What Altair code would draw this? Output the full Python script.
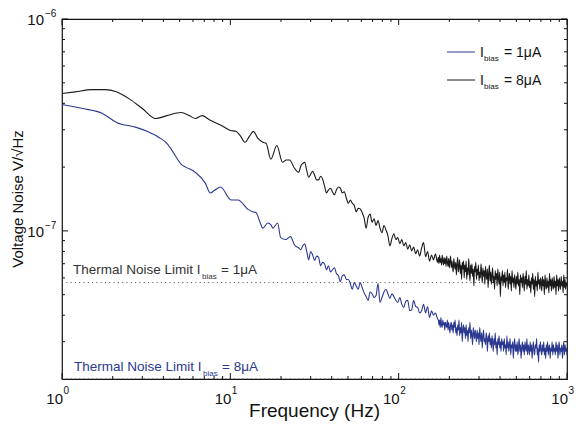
import altair as alt
import pandas as pd
import numpy as np

# ---------------- data (voltage noise in units of 1e-8 V/sqrt(Hz)) ----------------
# black curve (legend: I_bias = 8 uA) - smooth low-frequency part
F_BLACK_LOW = [1.0, 1.2, 1.5, 1.8, 2.1, 2.5, 3.0, 3.6, 4.2, 5.1, 5.7, 6.2, 6.8, 7.5, 8.8, 10.0,
               10.8, 11.5, 12.2, 13.0, 13.7, 14.6, 15.6, 16.3, 17.4, 18.9, 20.4, 21.5, 22.5, 24.0]
V_BLACK_LOW = [44.5, 45.3, 46.4, 46.4, 45.4, 42.1, 37.8, 33.9, 35.0, 36.2, 35.0, 33.9, 35.0, 33.5, 31.5, 29.8,
               29.5, 28.0, 26.2, 28.0, 29.5, 27.3, 26.2, 25.9, 21.8, 25.3, 21.1, 21.6, 21.6, 19.8]
# black curve, 25.5 Hz .. 170 Hz (log-spaced spectrum bins)
V_BLACK_MID = [18.9, 20.2, 20.8, 21.1, 19.3, 17.9, 18.5, 19.1, 18.3, 17.4,
               17.4, 18.1, 17.6, 16.3, 15.1, 15.6, 15.9, 15.3, 14.8, 15.6,
               16.1, 15.9, 15.1, 15.3, 14.3, 13.5, 14.0, 13.5, 13.2, 12.3,
               12.8, 12.7, 12.2, 11.5, 10.3, 11.6, 12.0, 11.0, 11.4, 10.6,
               11.2, 10.3, 9.8, 10.6, 10.1, 9.5, 8.5, 9.2, 9.7, 9.1,
               9.3, 8.7, 9.1, 8.5, 8.8, 8.2, 8.6, 8.05, 8.4, 7.8,
               8.15, 7.6, 8.3, 8.8, 7.55, 8.0, 7.2, 7.7, 7.3, 7.8, 7.1]
# black curve, 172 Hz .. 1000 Hz
V_BLACK_HIGH = [7.5, 7.0, 7.7, 7.1, 7.4, 6.9, 7.7, 7.2, 6.9, 7.5, 7.0, 7.4, 6.8, 7.6, 7.1, 6.8, 7.4, 6.7, 7.2, 7.6,
                6.7, 7.2, 6.8, 6.4, 7.4, 6.9, 6.6, 7.1, 6.2, 7.0, 7.5, 6.4, 6.8, 7.3, 6.3, 6.9, 5.9, 7.1, 6.6, 7.2,
                6.0, 6.9, 6.4, 7.2, 5.9, 6.7, 6.2, 7.4, 6.5, 5.8, 6.9, 6.3, 7.0, 6.1, 6.6, 5.5, 6.8, 6.4, 7.1, 5.9,
                6.6, 6.2, 6.9, 5.8, 6.4, 6.0, 7.0, 6.3, 5.7, 6.7, 6.1, 6.5, 5.6, 6.8, 6.2, 5.9, 6.6, 5.4, 6.3, 6.9,
                5.8, 6.4, 5.6, 6.2, 6.7, 5.7, 6.1, 5.3, 6.5, 5.9, 6.3, 5.5, 6.6, 6.0, 5.6, 6.4, 4.9, 6.1, 5.8, 6.5,
                5.5, 6.2, 5.7, 6.4, 5.4, 6.0, 5.8, 6.6, 5.3, 5.9, 6.3, 5.6, 6.1, 5.2, 6.5, 5.7, 6.0, 5.4, 6.2, 5.8,
                5.3, 6.1, 5.6, 6.4, 5.5, 5.9, 5.0, 6.2, 5.7, 6.0, 5.4, 6.3, 5.8, 5.2, 6.1, 5.6, 6.5, 5.3, 5.9, 5.5,
                6.2, 5.4, 5.8, 5.1, 6.0, 5.6, 6.3, 5.3, 5.9, 4.9, 6.1, 5.5, 5.8, 5.2, 6.4, 5.6, 5.9, 5.3, 6.0, 5.7,
                5.2, 6.1, 5.5, 5.9, 5.0, 6.2, 5.6, 5.3, 6.0, 5.4, 5.8, 5.1, 6.3, 5.5, 5.9, 5.2, 6.0, 5.6, 5.3, 6.1,
                5.4, 5.8, 5.0, 6.2, 5.5, 5.9, 5.2, 6.0, 5.6, 5.3, 6.1, 5.5, 5.8, 5.1, 6.2, 5.4, 5.9, 5.3, 5.7, 5.5]

# blue curve (legend: I_bias = 1 uA)
F_BLUE_LOW = [1.0, 1.33, 1.74, 2.11, 2.76, 3.2, 3.77, 4.2, 4.5, 5.15, 5.43, 6.2, 7.1, 7.6, 8.1, 8.75,
              10.1, 11.1, 12.8, 13.6, 14.2, 15.0, 15.6, 16.7, 17.4, 17.9, 19.1, 19.9, 21.3, 22.8, 24.0]
V_BLUE_LOW = [39.5, 37.8, 35.8, 32.5, 30.8, 29.5, 27.6, 25.9, 24.0, 20.5, 20.0, 18.9, 16.8, 15.1, 15.6, 16.1,
              14.0, 14.0, 12.6, 12.3, 12.2, 11.0, 10.3, 10.9, 10.7, 10.3, 10.9, 9.3, 9.1, 9.4, 8.6]
V_BLUE_MID = [8.3, 8.15, 8.5, 8.7, 8.0, 7.3, 8.0, 7.7, 7.25, 7.6,
              7.5, 6.85, 7.1, 7.0, 6.55, 6.85, 6.4, 6.55, 6.7, 6.3,
              6.15, 5.75, 6.15, 6.2, 5.9, 5.9, 5.65, 5.3, 5.7, 5.5,
              5.3, 5.7, 5.4, 5.1, 4.9, 4.7, 5.15, 5.05, 4.85, 4.95,
              5.65, 4.6, 4.85, 5.15, 5.3, 5.05, 4.8, 5.05, 4.9, 4.7,
              4.6, 4.85, 4.5, 4.35, 4.65, 4.7, 4.2, 4.25, 4.7, 4.4,
              4.35, 4.1, 4.2, 4.5, 4.1, 4.4, 3.9, 4.2, 4.0, 4.1, 3.85]
V_BLUE_HIGH = [3.8, 3.6, 3.8, 3.5, 3.9, 3.6, 3.5, 3.8, 3.6, 3.7, 3.4, 3.7, 3.6, 3.5, 3.8, 3.4, 3.7, 3.5, 3.3, 3.6,
               3.7, 3.4, 3.6, 3.3, 3.7, 3.5, 3.8, 3.3, 3.5, 3.2, 3.6, 3.4, 3.8, 3.2, 3.5, 3.3, 3.7, 3.0, 3.4, 3.6,
               3.3, 3.5, 3.1, 3.6, 3.2, 3.4, 3.0, 3.5, 3.3, 3.7, 3.1, 3.4, 3.2, 2.9, 3.5, 3.3, 3.1, 3.4, 3.2, 3.0,
               3.4, 3.1, 3.3, 2.9, 3.5, 3.2, 3.0, 3.3, 2.8, 3.2, 3.4, 3.0, 3.1, 2.9, 3.3, 3.1, 2.7, 3.2, 3.0, 3.3,
               2.9, 3.1, 2.8, 3.2, 3.0, 2.7, 3.1, 2.9, 3.3, 2.8, 3.0, 2.6, 3.1, 2.9, 3.2, 2.8, 3.0, 2.7, 3.1, 2.9,
               3.0, 2.7, 3.1, 2.8, 2.9, 2.6, 3.2, 2.8, 3.0, 2.7, 2.9, 3.1, 2.6, 2.9, 2.8, 3.0, 2.5, 2.9, 3.1, 2.7,
               2.9, 2.7, 3.0, 2.6, 2.8, 3.1, 2.7, 2.9, 2.5, 2.8, 3.0, 2.7, 2.9, 2.6, 3.0, 2.8, 2.7, 3.1, 2.6, 2.9,
               2.8, 2.6, 3.0, 2.7, 2.9, 2.5, 2.8, 3.0, 2.7, 2.6, 2.9, 2.8, 3.1, 2.6, 2.8, 2.4, 2.9, 2.7, 3.0, 2.7,
               2.6, 2.9, 2.7, 3.0, 2.6, 2.8, 2.5, 2.9, 2.7, 3.0, 2.6, 2.8, 2.9, 2.5, 2.8, 2.7, 3.0, 2.6, 2.9, 2.7,
               2.8, 2.6, 3.0, 2.7, 2.9, 2.5, 2.8, 3.0, 2.6, 2.8, 2.7, 2.9, 2.5, 2.8, 3.0, 2.6, 2.9, 2.7, 2.8, 2.6]

THERMAL_1UA = 5.7   # x 1e-8
THERMAL_8UA = 2.0   # x 1e-8
UNIT = 1e-8

SERIES = ["Ibias = 8\u03bcA", "Ibias = 1\u03bcA"]
COLORS = ["#1a1a1a", "#2b3990"]

X_DECADES = [1, 10, 100, 1000]
X_EXP = ["0", "1", "2", "3"]
X_MINOR = [2, 3, 4, 5, 6, 7, 8, 9, 20, 30, 40, 50, 60, 70, 80, 90, 200, 300, 400, 500, 600, 700, 800, 900]
Y_DECADES = [1e-7, 1e-6]
Y_EXP = ["\u22127", "\u22126"]
Y_MINOR = [3e-8, 4e-8, 5e-8, 6e-8, 7e-8, 8e-8, 9e-8, 2e-7, 3e-7, 4e-7, 5e-7, 6e-7, 7e-7, 8e-7, 9e-7]

# ---------------- build table ----------------
def seg(name, f_low, v_low, v_mid, v_high):
    f = list(f_low) + list(np.geomspace(25.5, 170, len(v_mid))) + list(np.geomspace(172, 1000, len(v_high)))
    v = [x * UNIT for x in list(v_low) + list(v_mid) + list(v_high)]
    return pd.DataFrame({"f": f, "v": v, "series": name})

df = pd.concat([seg(SERIES[0], F_BLACK_LOW, V_BLACK_LOW, V_BLACK_MID, V_BLACK_HIGH),
                seg(SERIES[1], F_BLUE_LOW, V_BLUE_LOW, V_BLUE_MID, V_BLUE_HIGH)], ignore_index=True)

W, H = 505, 360
FONT = "Liberation Sans"
xs = alt.Scale(type="log", domain=[1, 1000], nice=False)
ys = alt.Scale(type="log", domain=[2e-8, 1e-6], nice=False)
X = alt.X("f:Q", scale=xs, axis=None)
Y = alt.Y("v:Q", scale=ys, axis=None)
one = pd.DataFrame({"a": [0]})

layers = []

# thermal limits (dotted)
th = pd.DataFrame({"f": [1, 1000, 1, 1000],
                   "v": [THERMAL_1UA * UNIT] * 2 + [THERMAL_8UA * UNIT] * 2,
                   "k": ["a", "a", "b", "b"]})
layers.append(alt.Chart(th).mark_line(strokeDash=[1, 3.3], strokeWidth=1, color="#444").encode(
    x=X, y=Y, detail="k:N"))

# ticks
def xt(vals, L):
    d = pd.DataFrame({"f": vals})
    return [alt.Chart(d).mark_rule(color="#111", strokeWidth=1).encode(x=X, y=alt.value(H), y2=alt.value(H - L)),
            alt.Chart(d).mark_rule(color="#111", strokeWidth=1).encode(x=X, y=alt.value(0), y2=alt.value(L))]

def yt(vals, L):
    d = pd.DataFrame({"v": vals})
    return [alt.Chart(d).mark_rule(color="#111", strokeWidth=1).encode(y=Y, x=alt.value(0), x2=alt.value(L)),
            alt.Chart(d).mark_rule(color="#111", strokeWidth=1).encode(y=Y, x=alt.value(W), x2=alt.value(W - L))]

layers += xt(X_MINOR, 3) + xt(X_DECADES, 6) + yt(Y_MINOR, 3) + yt(Y_DECADES, 6)

# data lines
layers.append(alt.Chart(df).mark_line(strokeWidth=1.1, interpolate="monotone").encode(
    x=X, y=Y,
    color=alt.Color("series:N", scale=alt.Scale(domain=SERIES, range=COLORS), legend=None)))

# tick labels
xl = pd.DataFrame({"f": X_DECADES, "e": X_EXP})
layers.append(alt.Chart(xl).mark_text(align="right", baseline="alphabetic", dx=1, fontSize=15, font=FONT,
                                      color="#111").encode(x=X, y=alt.value(385), text=alt.value("10")))
layers.append(alt.Chart(xl).mark_text(align="left", baseline="alphabetic", dx=1.5, fontSize=10, font=FONT,
                                      color="#111").encode(x=X, y=alt.value(375), text="e:N"))
yl = pd.DataFrame({"v": Y_DECADES, "e": Y_EXP})
layers.append(alt.Chart(yl).mark_text(align="right", baseline="alphabetic", dy=6, fontSize=15, font=FONT,
                                      color="#111").encode(x=alt.value(-18), y=Y, text=alt.value("10")))
layers.append(alt.Chart(yl).mark_text(align="left", baseline="alphabetic", dy=-2, fontSize=10, font=FONT,
                                      color="#111").encode(x=alt.value(-17), y=Y, text="e:N"))

def txt(s, x, y, size, color="#222", align="left", angle=0):
    return alt.Chart(one).mark_text(align=align, baseline="alphabetic", fontSize=size, font=FONT,
                                    color=color, angle=angle).encode(
        x=alt.value(x), y=alt.value(y), text=alt.value(s))

# axis titles
layers.append(txt("Frequency (Hz)", W / 2, 398, 19, "#111", "center"))
layers.append(alt.Chart(one).mark_text(align="center", baseline="middle", fontSize=15, font=FONT,
                                       color="#111", angle=270).encode(
    x=alt.value(-44), y=alt.value(H / 2), text=alt.value("Voltage Noise V/\u221aHz")))

# legend
for (yline, ybase, label, col) in [(33, 38, "= 1\u03bcA", COLORS[1]), (61, 66, "= 8\u03bcA", COLORS[0])]:
    layers.append(alt.Chart(one).mark_rule(color=col, strokeWidth=1).encode(
        x=alt.value(385), x2=alt.value(413), y=alt.value(yline)))
    layers.append(txt("I", 418, ybase, 14, "#111"))
    layers.append(txt("bias", 422, ybase + 4, 8, "#111"))
    layers.append(txt(label, 442, ybase, 14, "#111"))

# thermal noise annotations
layers.append(txt("Thermal Noise Limit I", 11, 255, 13.5, "#333"))
layers.append(txt("bias", 140, 260, 8, "#333"))
layers.append(txt("= 1\u03bcA", 159, 255, 13.5, "#333"))
layers.append(txt("Thermal Noise Limit I", 12, 352, 13.5, COLORS[1]))
layers.append(txt("bias", 141, 357, 8, COLORS[1]))
layers.append(txt("= 8\u03bcA", 160, 352, 13.5, COLORS[1]))

chart = alt.layer(*layers).properties(
    width=W, height=H,
    autosize=alt.AutoSizeParams(type="none"),
    padding={"left": 54, "top": 11, "right": 7, "bottom": 42},
    background="white",
).configure_view(stroke="#111", strokeWidth=1.2)

chart.save("out.html", embed_options={"renderer": "svg", "actions": False})
